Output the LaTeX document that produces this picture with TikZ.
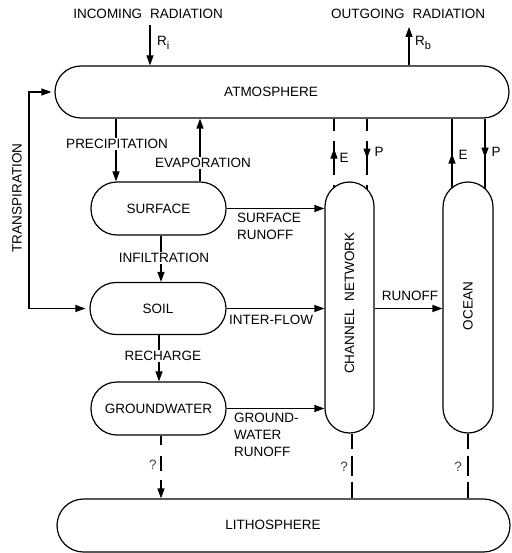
\documentclass[tikz,border=0pt]{standalone}
\usepackage{fontspec}
\setmainfont{Liberation Sans}
\usetikzlibrary{arrows.meta,backgrounds,decorations.markings}
\newcommand{\mysub}[1]{\raisebox{-3.5pt}{\fontsize{11}{11}\selectfont #1}}
\begin{document}
\begin{tikzpicture}[x=1pt,y=-1pt,
  font=\fontsize{13.5}{17}\selectfont,
  lw/.style={line width=1.2pt},
  pill/.style={draw, lw, fill=white, rounded corners=#1, inner sep=0pt},
  tip/.style={-{Triangle[length=10pt,width=7pt]}},
  flow/.style={lw, tip},
  lab/.style={fill=white, inner sep=1.5pt},
  txt/.style={inner sep=0pt},
  upmark/.style={postaction=decorate, decoration={markings, mark=at position #1 with {\arrowreversed{Triangle[length=10pt,width=7pt]}}}},
  downmark/.style={postaction=decorate, decoration={markings, mark=at position #1 with {\arrow{Triangle[length=10pt,width=7pt]}}}},
]
\useasboundingbox (0,0) rectangle (511,553);

% boxes
\node[pill=26pt, minimum width=454pt, minimum height=52pt] (atm) at (282,92) {};
\node (atmtxt) at (271,92) {ATMOSPHERE};
\node[pill=26pt, minimum width=135pt, minimum height=53pt] (surf) at (158.5,208.5) {SURFACE};
\node[pill=26pt, minimum width=136pt, minimum height=52pt] (soil) at (158,308.5) {SOIL};
\node[pill=26pt, minimum width=135pt, minimum height=53pt] (gw) at (158.5,408.5) {GROUNDWATER};
\node[pill=24.5pt, minimum width=49pt, minimum height=251pt] (chan) at (349.5,307.5) {};
\node[rotate=90] (chantxt) at (349.5,303) {CHANNEL\hspace{8pt}NETWORK};
\node[pill=25pt, minimum width=50pt, minimum height=251pt] (ocean) at (468,307.5) {};
\node[rotate=90] (oceantxt) at (468,306) {OCEAN};
\node[pill=26.5pt, minimum width=453pt, minimum height=53pt] (lith) at (283.5,525.5) {};
\node (lithtxt) at (273,525) {LITHOSPHERE};

% top labels
\node (inc) at (148,14) {INCOMING\hspace{8pt}RADIATION};
\node (out) at (408,14) {OUTGOING\hspace{8pt}RADIATION};
\node[anchor=west, txt] (ri) at (157,43) {R\mysub{i}};
\node[anchor=west, txt] (rb) at (415,43) {R\mysub{b}};
\coordinate (incs) at (150,25);
\coordinate (oute) at (409,27);

% coordinates
\coordinate (trc) at (29,92);
\coordinate (pc) at (116,0);
\coordinate (ec) at (200,0);
\coordinate (ic) at (161,0);
\coordinate (rc) at (159,0);
\coordinate (gc) at (161,0);
\coordinate (ce) at (334,0);
\coordinate (cp) at (367,0);
\coordinate (oe) at (452,0);
\coordinate (op) at (485,0);
\coordinate (cb) at (352,0);
\coordinate (ob) at (468,0);

% labels on lines
\node[lab] (prec) at (117,144) {PRECIPITATION};
\node[lab] (evap) at (203,163) {EVAPORATION};
\node[lab] (infl) at (164,258) {INFILTRATION};
\node[lab] (rech) at (163,356) {RECHARGE};
\node[rotate=90] (trtxt) at (17,198) {TRANSPIRATION};
\node[anchor=north west, txt, align=left] (srl) at (237,213) {SURFACE\\RUNOFF};
\node[anchor=west, txt] (ifl) at (229,320) {INTER-FLOW};
\node (rol) at (410,296) {RUNOFF};
\node[anchor=north west, txt, align=left] (gwl) at (234,413) {GROUND-\\WATER\\RUNOFF};
\node (ce_l) at (344,158) {E};
\node (cp_l) at (379,152) {P};
\node (oe_l) at (463,155) {E};
\node (op_l) at (496,152) {P};
\node[text=black!75] (q1) at (153,465) {?};
\node[text=black!75] (q2) at (344,467) {?};
\node[text=black!75] (q3) at (458,467) {?};

\begin{scope}[on background layer]
\draw[flow] (incs) -- (incs |- atm.north);
\draw[flow] (oute |- atm.north) -- (oute);
\draw[lw, {Triangle[length=10pt,width=7pt]}-{Triangle[length=10pt,width=7pt]}, shorten <=4pt, shorten >=3pt] (soil.west) -| (trc) -- (atm.west);
\draw[flow] (atm.south -| pc) -- (surf.north -| pc);
\draw[flow] (surf.north -| ec) -- (atm.south -| ec);
\draw[flow] (surf.south -| ic) -- (soil.north -| ic);
\draw[flow] (soil.south -| rc) -- (gw.north -| rc);
\draw[flow, dash pattern=on 9pt off 11pt on 15pt off 9pt on 40pt] (gw.south -| gc) -- (lith.north -| gc);
\draw[flow] (surf.east) -- (surf.east -| chan.west);
\draw[flow] (soil.east) -- (soil.east -| chan.west);
\draw[flow] (gw.east) -- (gw.east -| chan.west);
\draw[flow] (chan.east |- soil.east) -- (ocean.west |- soil.east);
\draw[lw, dash pattern=on 12pt off 10pt on 34pt off 10pt on 60pt, upmark=30pt] (atm.south -| ce) -- (chan.center -| ce);
\draw[lw, dash pattern=on 12pt off 10pt on 34pt off 10pt on 60pt, downmark=40pt] (atm.south -| cp) -- (chan.center -| cp);
\draw[lw, upmark=35pt] (atm.south -| oe) -- (ocean.center -| oe);
\draw[lw, downmark=39pt] (atm.south -| op) -- (ocean.center -| op);
\draw[lw, dash pattern=on 15pt off 7pt on 20pt off 6pt on 40pt] (chan.south -| cb) -- (lith.north -| cb);
\draw[lw, dash pattern=on 15pt off 7pt on 20pt off 6pt on 40pt] (ocean.south -| ob) -- (lith.north -| ob);
\end{scope}
\end{tikzpicture}
\end{document}
